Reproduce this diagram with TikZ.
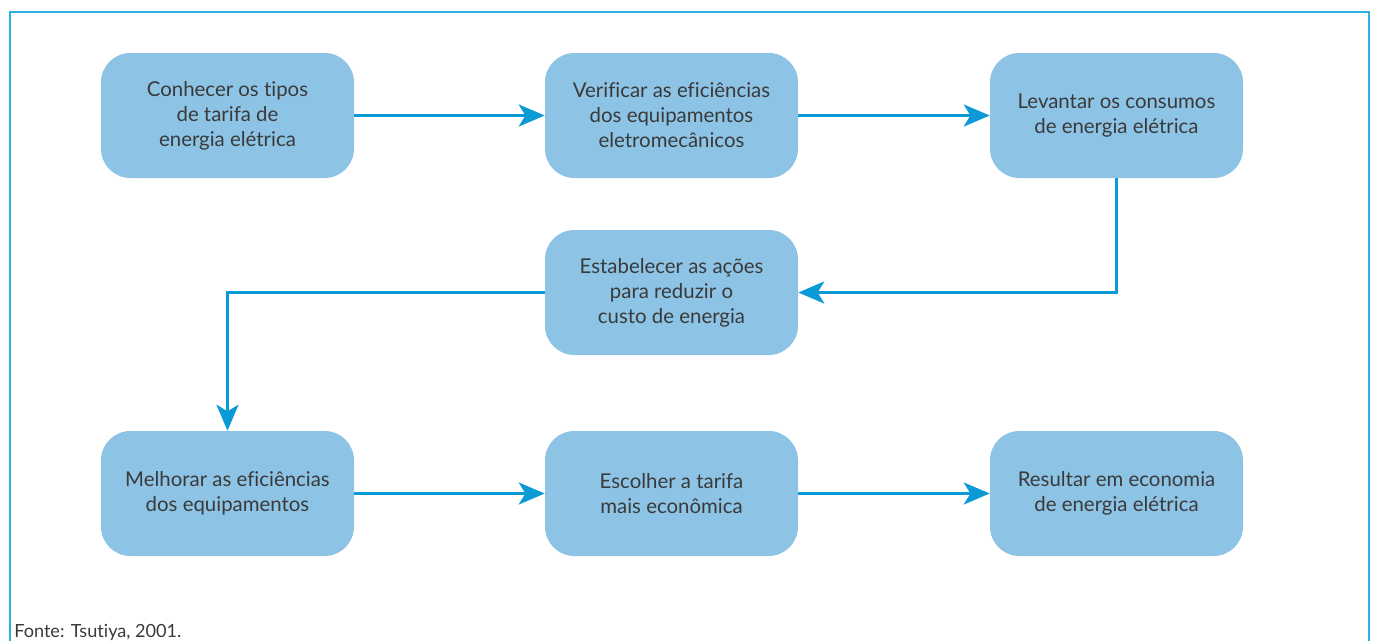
\documentclass[tikz,border=0pt]{standalone}
\usepackage{fontspec}
\setmainfont{Lato}[Ligatures={NoCommon}]
\usetikzlibrary{arrows.meta}
\definecolor{boxfill}{HTML}{8DC3E5}
\definecolor{arrowc}{HTML}{0A9BD6}
\definecolor{framec}{HTML}{2AB3E2}
\definecolor{textc}{HTML}{3A3A3A}
\begin{document}
\begin{tikzpicture}[x=0.75pt,y=-0.75pt,
  stepbox/.style={fill=boxfill,rounded corners=22pt,minimum width=189.75pt,minimum height=93.75pt,
    align=center,text=textc,font=\fontsize{15.3}{18.75}\selectfont,inner sep=0pt},
  conn/.style={draw=arrowc,line width=2.2pt,-{Stealth[length=19.5pt,width=16.5pt,inset=5pt]}}]
\useasboundingbox (0,0) rectangle (1375,640);
\draw[framec,line width=1.6pt] (10,645) -- (10,12) -- (1369,12) -- (1369,645);
\node[stepbox] (a) at (227.5,115.5) {Conhecer os tipos\\de tarifa de\\energia elétrica};
\node[stepbox] (b) at (671.5,115.5) {Verificar as eficiências\\dos equipamentos\\eletromecânicos};
\node[stepbox] (c) at (1116.5,115.5) {Levantar os consumos\\de energia elétrica};
\node[stepbox] (d) at (671.5,292.5) {Estabelecer as ações\\para reduzir o\\custo de energia};
\node[stepbox] (e) at (227.5,493.5) {Melhorar as eficiências\\dos equipamentos};
\node[stepbox] (f) at (671.5,493.5) {Escolher a tarifa\\mais econômica};
\node[stepbox] (g) at (1116.5,493.5) {Resultar em economia\\de energia elétrica};
\draw[conn] (a) -- (b);
\draw[conn] (b) -- (c);
\draw[conn] (c.south) |- (d.east);
\draw[conn] (d.west) -| (e.north);
\draw[conn] (e) -- (f);
\draw[conn] (f) -- (g);
\node[anchor=base west,inner sep=0pt,text=textc,font=\fontsize{13.6}{16}\selectfont] (src) at (14,637) {Fonte: Tsutiya, 2001.};
\end{tikzpicture}
\end{document}
